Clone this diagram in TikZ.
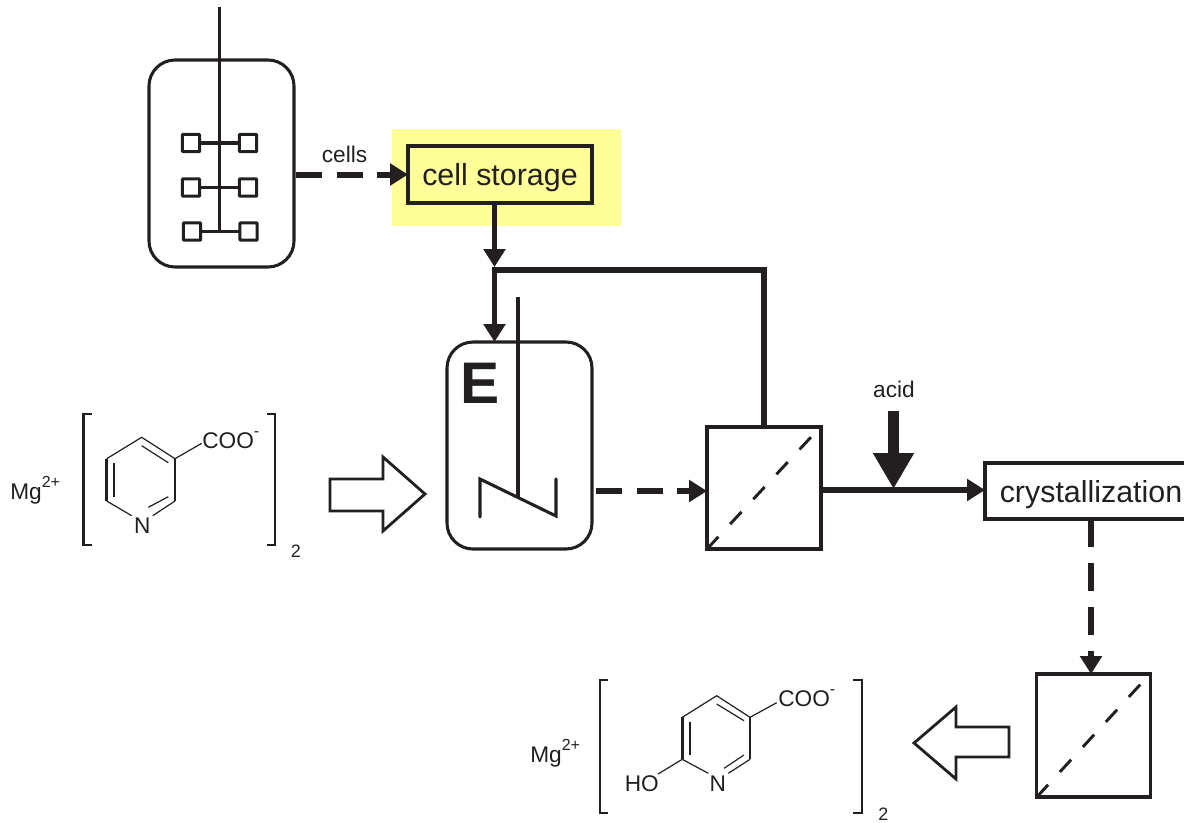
\documentclass[tikz,border=0pt]{standalone}
\usepackage{fontspec}
\setmainfont{Liberation Sans}
\usetikzlibrary{arrows.meta}
\definecolor{inkblack}{HTML}{231F20}
\definecolor{highlight}{HTML}{FFFF99}
\newcommand{\raisedtext}[1]{\raisebox{9pt}{\fontsize{12}{12}\selectfont #1}}
\tikzset{
	vessel/.style={draw=inkblack, line width=2.3pt, rounded corners=19.5pt, inner sep=0pt, outer sep=0pt, minimum width=108.75pt, minimum height=155.25pt},
	unitbox/.style={draw=inkblack, line width=2.4pt, inner sep=0pt, outer sep=0pt},
	paddle/.style={draw=inkblack, line width=2.2pt, rounded corners=0.5pt, inner sep=0pt, outer sep=0pt, minimum size=13pt},
	stream/.style={draw=inkblack, line width=4.3pt, -{Triangle[length=13.5pt, width=16pt]}},
	dashstream/.style={stream, line width=4.5pt, dash pattern=on 19.5pt off 11pt},
	hollow/.style={draw=inkblack, line width=2.1pt, line join=miter, fill=white},
	splitline/.style={draw=inkblack, line width=2.2pt, dash pattern=on 12.5pt off 13pt},
	axle/.style={draw=inkblack, line width=2.3pt},
	bond/.style={draw=inkblack, line width=0.9pt},
	bracket/.style={draw=inkblack, line width=1.8pt},
	plainlabel/.style={inner sep=0pt, text=inkblack, font=\fontsize{17}{17}\selectfont},
	boxlabel/.style={font=\fontsize{22.8}{24}\selectfont, text=inkblack, text depth=0pt},
}
\begin{document}
\begin{tikzpicture}[x=0.75pt, y=-0.75pt]
	\useasboundingbox (0,0) rectangle (1184,822);

	\fill[highlight] (392,129) rectangle (621,226);

	\node[vessel] (fermenter) at (221.5,163.5) {};
	\node[vessel] (reactorE) at (519.5,445.5) {};
	\node[unitbox, minimum width=138pt, minimum height=42.75pt, boxlabel] (cellstorage) at (500,174.5) {cell storage};
	\node[unitbox, minimum width=85.5pt, minimum height=91.5pt] (filterA) at (764,488) {};
	\node[unitbox, minimum width=85pt, minimum height=92.25pt] (filterB) at (1093.5,735.5) {};
	\node[unitbox, minimum width=159pt, minimum height=42pt, boxlabel] (crystallizer) at (1091,491) {crystallization};

	\coordinate (shafttop) at (219.5,7);
	\coordinate (shaftend) at (219.5,233);
	\draw[axle] (shafttop) -- (shaftend);
	\node[paddle] (paddleAl) at (191,143) {};
	\node[paddle] (paddleAr) at (248,143) {};
	\node[paddle] (paddleBl) at (191,187.5) {};
	\node[paddle] (paddleBr) at (248,187.5) {};
	\node[paddle] (paddleCl) at (192,231.5) {};
	\node[paddle] (paddleCr) at (248.5,231.5) {};
	\draw[axle] (paddleAl) -- (paddleAr);
	\draw[axle] (paddleBl) -- (paddleBr);
	\draw[axle] (paddleCl) -- (paddleCr);

	\coordinate (stirtop) at (518,297);
	\coordinate (stirend) at (518,497);
	\draw[axle] (stirtop) -- (stirend);
	\draw[axle, line cap=round, line join=miter] (480,517) -- (480,479) -- (556,516) -- (556,479);
	\node[inner sep=0pt, anchor=base west, text=inkblack, font=\fontsize{44}{44}\selectfont\bfseries] (enzyme) at (460,403) {E};

	\coordinate (cellstart) at (296,174.5);
	\draw[dashstream] (cellstart) -- (cellstorage.west);
	\node[plainlabel] (cellslabel) at (344.5,154) {cells};

	\coordinate (loopcorner) at (494.5,270);
	\coordinate (loopjoin) at (494.5,267);
	\draw[stream] (loopjoin |- cellstorage.south) -- (loopjoin);
	\draw[stream, line join=miter] (filterA.north) |- (loopcorner) -- (loopcorner |- reactorE.north);

	\coordinate (reactorout) at (596,491);
	\draw[dashstream] (reactorout) -- (reactorout -| filterA.west);
	\draw[splitline] (filterA.south west) -- (812,436);

	\coordinate (filterout) at (821,490);
	\draw[stream] (filterout) -- (filterout -| crystallizer.west);
	\coordinate (acidtop) at (893.5,411);
	\coordinate (acidjoin) at (893.5,489);
	\draw[draw=inkblack, line width=8.2pt, -{Triangle[length=27pt, width=29pt]}] (acidtop) -- (acidjoin);
	\node[plainlabel] (acidlabel) at (894,389) {acid};

	\draw[stream, line width=4.5pt, dash pattern=on 21pt off 12pt] (crystallizer.south) -- (crystallizer.south |- filterB.north);
	\draw[splitline] (filterB.south west) -- (1140.7,684);

	\draw[hollow] (330,479) -- (383,479) -- (383,457) -- (425,494) -- (383,531) -- (383,511) -- (330,511) -- cycle;
	\draw[hollow] (914,743) -- (956,707) -- (956,727) -- (1009,727) -- (1009,757) -- (956,757) -- (956,779) -- cycle;

	\node[plainlabel, anchor=base west] (mgA) at (10,499) {Mg\raisedtext{2+}};
	\draw[bracket] (91.7,414) -- (83.5,414) -- (83.5,545) -- (91.7,545);
	\draw[bracket] (267,414) -- (275,414) -- (275,545) -- (267,545);
	\node[plainlabel, anchor=base] (nitrogenA) at (142.3,533) {N};
	\node[plainlabel, anchor=base west] (cooA) at (202,448) {COO\raisedtext{-}};
	\node[plainlabel, anchor=base west, font=\fontsize{13.5}{14}\selectfont] (countA) at (290.5,557) {2};

	\coordinate (ringA1) at (141.7,437.3);
	\coordinate (ringA2) at (175,458.7);
	\coordinate (ringA3) at (175,501);
	\coordinate (ringA4) at (152.7,515.7);
	\coordinate (ringA5) at (131.7,515.7);
	\coordinate (ringA6) at (106.7,501);
	\coordinate (ringA7) at (106.7,458.7);
	\draw[bond] (ringA7) -- (ringA1) -- (ringA2) -- (201.7,443.3);
	\draw[bond] (ringA3) -- (ringA4);
	\draw[bond] (ringA6) -- (ringA5);
	\draw[bond, line width=1.6pt] (ringA2) -- (ringA3);
	\draw[bond, line width=2.2pt] (ringA6) -- (ringA7);
	\draw[bond] (141.7,445.7) -- (168.3,462.7);
	\draw[bond, line width=1.5pt] (114.3,463.3) -- (114.3,497.3);
	\draw[bond] (148.3,507.3) -- (168.3,496.7);

	\node[plainlabel, anchor=base west] (mgB) at (530,762.7) {Mg\raisedtext{2+}};
	\draw[bracket] (608,680) -- (600,680) -- (600,812.7) -- (608,812.7);
	\draw[bracket] (853,680) -- (861.7,680) -- (861.7,812.7) -- (853,812.7);
	\node[plainlabel, anchor=base] (nitrogenB) at (717.7,791) {N};
	\node[plainlabel, anchor=base west] (hoB) at (624.5,791.7) {HO};
	\node[plainlabel, anchor=base west] (cooB) at (778,706) {COO\raisedtext{-}};
	\node[plainlabel, anchor=base west, font=\fontsize{13.5}{14}\selectfont] (countB) at (878,820.5) {2};

	\coordinate (ringB1) at (716.7,695.7);
	\coordinate (ringB2) at (750,717.3);
	\coordinate (ringB3) at (750,759.3);
	\coordinate (ringB4) at (728.3,773.3);
	\coordinate (ringB5) at (708.3,773.3);
	\coordinate (ringB6) at (682.3,759.3);
	\coordinate (ringB7) at (682.3,717.3);
	\draw[bond] (ringB7) -- (ringB1) -- (ringB2) -- (776.7,702.7);
	\draw[bond] (ringB3) -- (ringB4);
	\draw[bond] (ringB6) -- (ringB5);
	\draw[bond] (ringB6) -- (658,774);
	\draw[bond, line width=1.6pt] (ringB2) -- (ringB3);
	\draw[bond, line width=2.2pt] (ringB6) -- (ringB7);
	\draw[bond] (716.7,704) -- (744,720.7);
	\draw[bond, line width=1.5pt] (690,721.7) -- (690,755);
	\draw[bond] (724,768.3) -- (744,755);
\end{tikzpicture}
\end{document}
